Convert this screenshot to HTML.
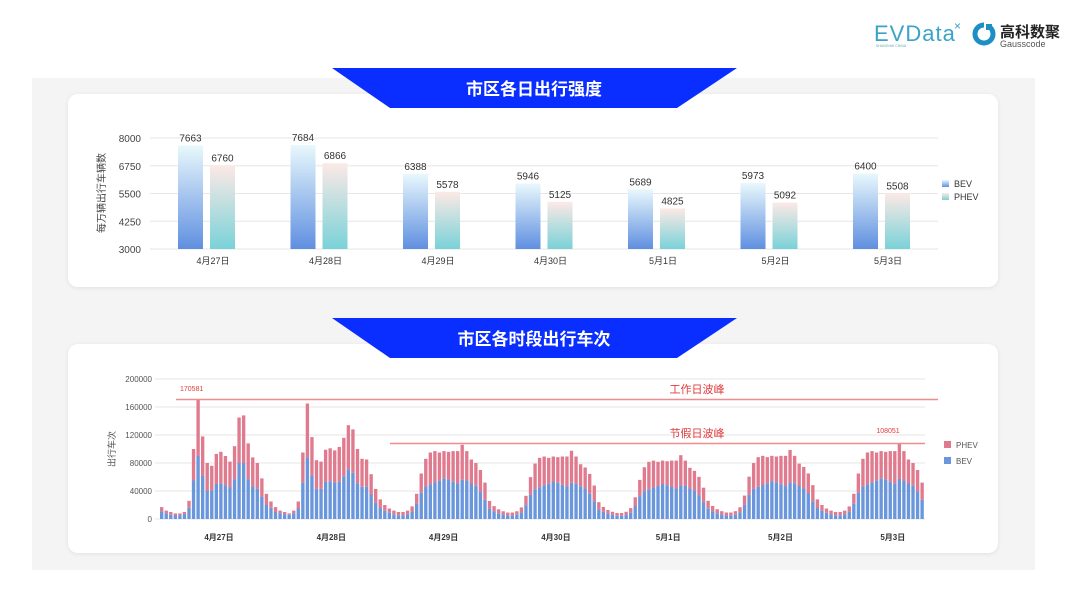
<!DOCTYPE html>
<html><head><meta charset="utf-8"><style>
body{margin:0;width:1080px;height:608px;background:#fff;font-family:"Liberation Sans","Noto Sans CJK SC",sans-serif;overflow:hidden}
</style></head><body>
<svg id="s" width="1080" height="608" xmlns="http://www.w3.org/2000/svg" font-family="Liberation Sans, Noto Sans CJK SC, sans-serif">
<defs>
<linearGradient id="gb" x1="0" y1="0" x2="0" y2="1"><stop offset="0" stop-color="#e8f8fc"/><stop offset="1" stop-color="#5f8fe0"/></linearGradient>
<linearGradient id="gp" x1="0" y1="0" x2="0" y2="1"><stop offset="0" stop-color="#fce9e6"/><stop offset="1" stop-color="#79d2d8"/></linearGradient>
<filter id="sh" x="-5%" y="-10%" width="110%" height="120%"><feDropShadow dx="0" dy="1" stdDeviation="2" flood-color="#000" flood-opacity="0.08"/></filter>
</defs>
<rect x="32" y="78" width="1003" height="492" fill="#f4f4f4"/>
<rect x="68" y="94" width="930" height="193" rx="10" fill="#fff" filter="url(#sh)"/>
<rect x="68" y="344" width="930" height="209" rx="10" fill="#fff" filter="url(#sh)"/>
<polygon points="332,68 737,68 677,108 390,108" fill="#0a2eff"/>
<text x="534" y="95" fill="#fff" font-size="17" font-weight="bold" text-anchor="middle">市区各日出行强度</text>
<polygon points="332,318 737,318 677,358 390,358" fill="#0a2eff"/>
<text x="534" y="345" fill="#fff" font-size="17" font-weight="bold" text-anchor="middle">市区各时段出行车次</text>
<text x="874" y="41" fill="#3aa3c8" font-size="22" letter-spacing="1">EVData</text>
<text x="954" y="30" fill="#3aa3c8" font-size="12">×</text>
<text x="876" y="47" fill="#6aa" font-size="3.5">SHANGHAI CHINA</text>
<circle cx="984" cy="34" r="9" fill="none" stroke="#1c8fc4" stroke-width="5"/>
<rect x="984" y="22" width="8" height="8" fill="#fff"/><rect x="986" y="24" width="6" height="6" fill="#1c8fc4"/>
<text x="1000" y="37" fill="#222" font-size="15" font-weight="bold">高科数聚</text>
<text x="1000" y="47" fill="#555" font-size="9">Gausscode</text>
<g id="top" font-size="10" fill="#333"></g>
<g id="bot" font-size="8" fill="#555"></g>
</svg>
<script>
var NS="http://www.w3.org/2000/svg";
function el(p,t,a,txt){var e=document.createElementNS(NS,t);for(var k in a)e.setAttribute(k,a[k]);if(txt!=null)e.textContent=txt;p.appendChild(e);return e;}
var T=document.getElementById("top");
var ys=[3000,4250,5500,6750,8000];
function ty(v){return 249-(v-3000)*111/5000;}
ys.forEach(function(v){var y=ty(v);el(T,"line",{x1:150,x2:938,y1:y,y2:y,stroke:"#e6e6e6"});el(T,"text",{x:141,y:y+4,"text-anchor":"end",fill:"#444"},v);});
el(T,"text",{transform:"translate(105,193) rotate(-90)","text-anchor":"middle","font-size":"10",fill:"#444"},"每万辆出行车辆数");
var B=[7663,7684,6388,5946,5689,5973,6400],P=[6760,6866,5578,5125,4825,5092,5508];
var L=["4月27日","4月28日","4月29日","4月30日","5月1日","5月2日","5月3日"];
for(var i=0;i<7;i++){var cx=213+i*112.5;
var yb=ty(B[i]),yp=ty(P[i]);
el(T,"rect",{x:cx-35,y:yb,width:25,height:249-yb,fill:"url(#gb)"});
el(T,"rect",{x:cx-3,y:yp,width:25,height:249-yp,fill:"url(#gp)"});
el(T,"text",{x:cx-22.5,y:yb-4,"text-anchor":"middle"},B[i]);
el(T,"text",{x:cx+9.5,y:yp-4,"text-anchor":"middle"},P[i]);
el(T,"text",{x:cx,y:264,"text-anchor":"middle","font-size":"9"},L[i]);}
el(T,"rect",{x:942,y:180,width:7,height:7,fill:"url(#gb)"});el(T,"text",{x:954,y:187,"font-size":"9"},"BEV");
el(T,"rect",{x:942,y:193,width:7,height:7,fill:"url(#gp)"});el(T,"text",{x:954,y:200,"font-size":"9"},"PHEV");
var G=document.getElementById("bot");
function by(v){return 519-v*140/200;}
[0,40,80,120,160,200].forEach(function(v){var y=by(v);el(G,"line",{x1:155,x2:925,y1:y,y2:y,stroke:"#e6e6e6"});el(G,"text",{x:152,y:y+3,"text-anchor":"end"},v?v+"000":"0");});
el(G,"text",{transform:"translate(115,449) rotate(-90)","text-anchor":"middle","font-size":"9"},"出行车次");
var d1=[17,12,10,8,8,10,26,100,170,118,80,76,93,96,90,82,104,145,148,108,88,80,58,36];
var b1=[11,8,6,5,5,7,16,55,90,62,40,41,50,51,48,45,57,80,80,57,47,43,32,20];
var d2=[25,17,12,10,8,12,25,95,165,117,84,82,99,101,98,103,116,134,128,100,86,85,64,43];
var b2=[16,10,8,7,6,8,15,52,88,62,43,43,53,54,52,53,61,71,66,51,46,46,35,23];
var H=[28,20,15,12,10,10,12,18,36,65,86,95,97,95,97,96,97,97,106,97,85,80,70,52];
var days=[d1,d2];var bev=[b1,b2];
var sc=[1,0.92,0.86,0.93,1.0];
sc.forEach(function(s,k){var d=[],b=[];H.forEach(function(v,h){var t=v*s;if(k==4&&h==18)t=108;d.push(t);b.push(t*(0.56+0.04*Math.sin(h)));});days.push(d);bev.push(b);});
var w=765/168;
for(var di=0;di<7;di++)for(var h=0;h<24;h++){var x=160+(di*24+h)*w;var t=days[di][h],bv=bev[di][h];
el(G,"rect",{x:x,y:by(t),width:w-1.2,height:(t-bv)*0.7,fill:"#e07a8e"});
el(G,"rect",{x:x,y:by(bv),width:w-1.2,height:bv*0.7,fill:"#6a96dc"});}
L.forEach(function(l,i){el(G,"text",{x:219+i*112.3,y:540,"text-anchor":"middle","font-weight":"bold",fill:"#333"},l);});
el(G,"line",{x1:176,x2:938,y1:399.5,y2:399.5,stroke:"#f08c8c","stroke-width":1.5});
el(G,"line",{x1:390,x2:925,y1:443.5,y2:443.5,stroke:"#f08c8c","stroke-width":1.5});
el(G,"text",{x:180,y:391,fill:"#e03c3c","font-size":"7"},"170581");
el(G,"text",{x:888,y:433,fill:"#e03c3c","font-size":"7","text-anchor":"middle"},"108051");
el(G,"text",{x:697,y:393,fill:"#e03c3c","font-size":"11","text-anchor":"middle"},"工作日波峰");
el(G,"text",{x:697,y:437,fill:"#e03c3c","font-size":"11","text-anchor":"middle"},"节假日波峰");
el(G,"rect",{x:944,y:441,width:7,height:7,fill:"#e07a8e"});el(G,"text",{x:956,y:448},"PHEV");
el(G,"rect",{x:944,y:457,width:7,height:7,fill:"#6a96dc"});el(G,"text",{x:956,y:464},"BEV");
</script>
</body></html>
